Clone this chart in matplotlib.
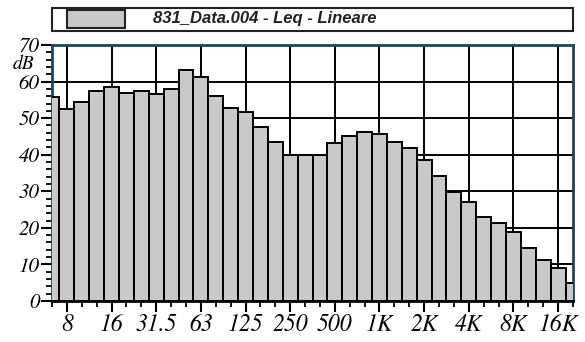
import os
import numpy as np
import matplotlib
matplotlib.use("Agg")
import matplotlib.pyplot as plt
from matplotlib.patches import Rectangle
from matplotlib import font_manager as fm

# third-octave bands, 6.3 Hz .. 20 kHz
bands = ["6.3", "8", "10", "12.5", "16", "20", "25", "31.5", "40", "50", "63", "80",
         "100", "125", "160", "200", "250", "315", "400", "500", "630", "800",
         "1K", "1.25K", "1.6K", "2K", "2.5K", "3.15K", "4K", "5K", "6.3K", "8K",
         "10K", "12.5K", "16K", "20K"]
leq = [55.7, 52.4, 54.5, 57.5, 58.4, 56.8, 57.5, 56.5, 58.0, 63.2, 61.3, 56.1,
       52.7, 51.8, 47.5, 43.6, 39.9, 40.0, 40.0, 43.3, 45.1, 46.1,
       45.6, 43.6, 41.7, 38.6, 34.2, 29.7, 27.0, 23.1, 21.2, 19.0,
       14.6, 11.2, 8.9, 4.8]
labeled = ["8", "16", "31.5", "63", "125", "250", "500", "1K", "2K", "4K", "8K", "16K"]
series_name = "831_Data.004 - Leq - Lineare"

# Times-like italic shipped with matplotlib (STIX)
serif_file = os.path.join(matplotlib.get_data_path(), "fonts", "ttf", "STIXGeneralItalic.ttf")
if not os.path.exists(serif_file):
    serif_file = fm.findfont(fm.FontProperties(family="Liberation Serif", style="italic"))

def sfont(size):
    return fm.FontProperties(fname=serif_file, size=size)

frame_col = "#1f4656"
bar_col = "#c9c9c9"

fig = plt.figure(figsize=(5.85, 3.42), dpi=100)
ax = fig.add_axes([52 / 585, 1 - 301 / 342, 521 / 585, 256 / 342])

x = np.arange(len(bands))
ax.bar(x, leq, width=1.0, color=bar_col, edgecolor="black", linewidth=1.4, zorder=3)

ax.set_xlim(0, len(bands) - 1)
ax.set_ylim(0, 70)

major = [bands.index(b) for b in labeled]
ax.set_xticks(major)
ax.set_xticklabels(labeled)
ax.set_xticks(x, minor=True)
ax.set_yticks(np.arange(0, 71, 10))
ax.set_yticklabels([str(v) for v in range(0, 71, 10)])
ax.set_yticks(np.arange(0, 71, 2), minor=True)
for t in ax.get_xticklabels():
    t.set_fontproperties(sfont(17))
for t in ax.get_yticklabels():
    t.set_fontproperties(sfont(15))

ax.tick_params(axis="both", which="major", length=8, width=1.5, color="black", pad=1)
ax.tick_params(axis="both", which="minor", length=4, width=1.3, color="black")
ax.tick_params(axis="x", which="major", pad=1)

ax.grid(True, which="major", color="black", linewidth=1.4, zorder=0)
ax.set_axisbelow(True)

for side in ["left", "top", "right"]:
    ax.spines[side].set_color(frame_col)
    ax.spines[side].set_linewidth(2)
ax.spines["bottom"].set_color("black")
ax.spines["bottom"].set_linewidth(2)

fig.text(24 / 585, 1 - 64 / 342, "dB", ha="center", va="center", fontproperties=sfont(14))

# legend box along the top
fig.patches.append(Rectangle((52 / 585, 1 - 31 / 342), 521 / 585, 23 / 342,
                             transform=fig.transFigure, facecolor="white",
                             edgecolor="#222222", linewidth=1.5))
fig.patches.append(Rectangle((67 / 585, 1 - 28 / 342), 58 / 585, 18 / 342,
                             transform=fig.transFigure, facecolor=bar_col,
                             edgecolor="#222222", linewidth=1.5))
fig.text(153 / 585, 1 - 19 / 342, series_name, ha="left", va="center",
         fontsize=12, family="Liberation Sans", weight="bold", style="italic",
         color="#222222")

fig.savefig("out.png", dpi=100)
